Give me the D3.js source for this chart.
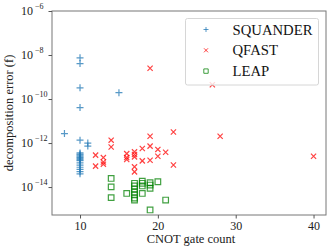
<html>
<head>
<script src="https://cdn.jsdelivr.net/npm/d3@7"></script>
</head>
<body style="margin:0">
  <svg id="svg" width=332 height=252></svg>
  <script type="text/javascript">
  // CNOT count / decomposition error pairs
  const squanderX = [10,10,10,15,10, 8,10,11,11, 10,10,10,10,10,10,10,10,10,10,10,10,10,10];
  const squanderY = [-8.13,-8.39,-9.49,-9.71,-10.39, -11.57,-11.87,-12.0,-12.14,
                     -12.45,-12.5,-12.55,-12.6,-12.65,-12.7,-12.75,-12.8,-12.9,-13.0,-13.1,-13.2,-13.3,-13.4];
  const qfastX = [19,27,28,40, 14,14,12,12,13,13,13, 16,16,16,17,17,17,17,17, 18,18,19,19,19,20,20,21,22,22];
  const qfastY = [-8.6,-9.35,-11.69,-12.6, -11.87,-12.18,-12.55,-13.05,-12.66,-12.86,-12.96,
                  -12.48,-12.66,-12.75,-12.4,-12.52,-12.63,-13.08,-13.31,
                  -12.25,-12.81,-11.69,-12.14,-12.78,-12.29,-12.6,-12.42,-11.5,-13.0];
  const leapX = [14,14,14,16,17,17,17,17,17,17,17,18,18,18,18,19,19,19,19,20,21];
  const leapY = [-13.61,-13.99,-14.48,-14.29,-13.83,-13.95,-14.09,-14.23,-14.36,-14.5,-14.59,
                 -13.73,-13.83,-13.95,-14.29,-13.8,-13.91,-14.06,-15.04,-13.76,-14.59];
  const xTicks = [10,20,30,40];
  const yTicks = [-14,-12,-10,-8,-6];
  const names = ["SQUANDER","QFAST","LEAP"];

  const svg = d3.select("#svg");
  const L = 52, R = 326, T = 11, B = 215;
  const x = d3.scaleLinear().domain([6.4, 41.6]).range([L, R]);
  const y = d3.scaleLog().domain([Math.pow(10,-15.27), 1e-6]).range([B, T]);
  const font = "'Liberation Serif', 'Times New Roman', serif";

  svg.append("rect").attr("x", L).attr("y", T).attr("width", R-L).attr("height", B-T)
    .style("fill", "white").style("stroke", "#777").style("stroke-width", "1px");

  // x axis
  const xa = svg.append("g").attr("transform", "translate(0,"+B+")")
    .call(d3.axisBottom(x).tickValues(xTicks).tickSize(3.5).tickPadding(3));
  xa.select(".domain").remove();
  xa.selectAll("line").style("stroke", "#555");
  xa.selectAll("text").style("font-family", font).style("font-size", "12px").attr("fill", "#222");

  // y axis, labels as 10^n
  const ya = svg.append("g").attr("transform", "translate("+L+",0)")
    .call(d3.axisLeft(y).tickValues(yTicks.map(e => Math.pow(10, e))).tickSize(3.5).tickFormat(""));
  ya.select(".domain").remove();
  ya.selectAll("line").style("stroke", "#555");
  yTicks.forEach(function (e) {
    const t = svg.append("text").attr("x", 21).attr("y", y(Math.pow(10, e)) + 4)
      .style("font-family", font).attr("fill", "#222");
    t.append("tspan").style("font-size", "12px").text("10");
    t.append("tspan").style("font-size", "8px").attr("dx", 2).attr("dy", -6).text("\u2212" + (-e));
  });

  svg.append("text").attr("x", (L+R)/2 + 2).attr("y", 243).attr("text-anchor", "middle")
    .style("font-family", font).style("font-size", "12.5px").attr("fill", "#222").text("CNOT gate count");
  svg.append("text").attr("transform", "translate(13,"+((T+B)/2)+") rotate(-90)")
    .attr("text-anchor", "middle").style("font-family", font).style("font-size", "12.5px")
    .attr("fill", "#222").text("decomposition error (f)");

  const plotG = svg.append("g");
  function plus(s) { return "M"+(-s)+",0H"+s+"M0,"+(-s)+"V"+s; }
  function cross(s) { return "M"+(-s)+","+(-s)+"L"+s+","+s+"M"+(-s)+","+s+"L"+s+","+(-s); }
  function square(s) { return "M"+(-s)+","+(-s)+"H"+s+"V"+s+"H"+(-s)+"Z"; }

  function series(xs, ys, d, color) {
    plotG.selectAll(null).data(xs).enter().append("path")
      .attr("transform", (v,i) => "translate("+x(v)+","+y(Math.pow(10, ys[i]))+")")
      .attr("d", d).style("fill", "none").style("stroke", color)
      .style("stroke-width", "1.2px").style("stroke-opacity", 0.75);
  }
  series(squanderX, squanderY, plus(3.5), "#1f77b4");
  series(qfastX, qfastY, cross(2.6), "#ff0000");
  series(leapX, leapY, square(2.8), "#008000");

  // legend
  const lg = svg.append("g");
  lg.append("rect").attr("x", 185.5).attr("y", 18.5).attr("width", 133).attr("height", 66.5)
    .attr("rx", 2).style("fill", "white").style("fill-opacity", 0.8)
    .style("stroke", "#d6d6d6").style("stroke-width", "1px");
  const marks = [plus(2.5), cross(2), square(2.2)];
  const cols = ["#1f77b4", "#ff0000", "#008000"];
  names.forEach(function (n, i) {
    const yy = 29.5 + i * 20.8;
    lg.append("path").attr("transform", "translate(206,"+yy+")").attr("d", marks[i])
      .style("fill", "none").style("stroke", cols[i]).style("stroke-width", "1px").style("stroke-opacity", 0.75);
    lg.append("text").attr("x", 232.5).attr("y", yy + 5).style("font-family", font)
      .style("font-size", "14.7px").attr("fill", "#111").text(n);
  });
  </script>
</body>
</html>
